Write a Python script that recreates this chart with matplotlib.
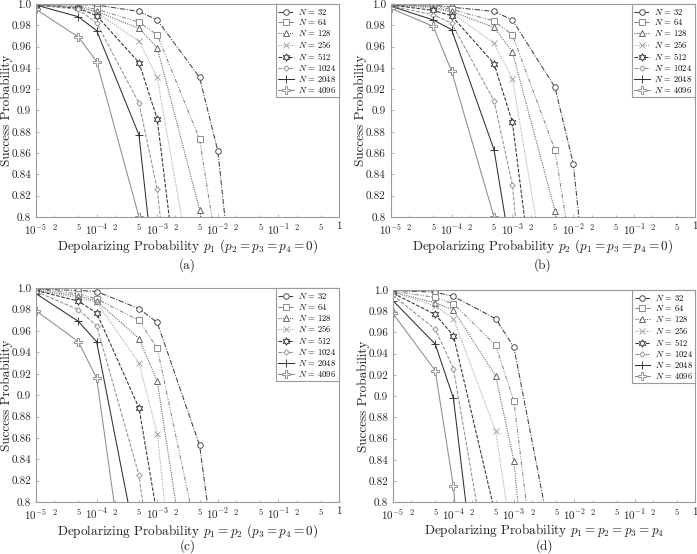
import numpy as np
import matplotlib
matplotlib.use("Agg")
import matplotlib.pyplot as plt
from matplotlib.ticker import FixedLocator, FixedFormatter

plt.rcParams["font.family"] = "serif"
plt.rcParams["font.serif"] = ["cmr10", "DejaVu Serif"]
plt.rcParams["mathtext.fontset"] = "cm"
plt.rcParams["axes.formatter.use_mathtext"] = True

# sample points of the depolarizing probability
p_vals = [1e-5, 5e-5, 1e-4, 5e-4, 1e-3, 5e-3, 1e-2, 5e-2]
sizes = [32, 64, 128, 256, 512, 1024, 2048, 4096]

# success probability per N (series stop once they fall out of view)
succ_a = {
    32:   [0.9995, 0.9995, 0.999, 0.993, 0.985, 0.931, 0.862, 0.487],
    64:   [0.999, 0.998, 0.995, 0.983, 0.971, 0.873, 0.764],
    128:  [0.999, 0.997, 0.993, 0.977, 0.959, 0.807, 0.70],
    256:  [0.999, 0.997, 0.992, 0.965, 0.931, 0.703],
    512:  [0.999, 0.996, 0.989, 0.945, 0.892, 0.567],
    1024: [0.999, 0.995, 0.982, 0.907, 0.826, 0.459],
    2048: [0.999, 0.988, 0.975, 0.877, 0.72],
    4096: [0.995, 0.969, 0.946, 0.800, 0.60],
}
succ_b = {
    32:   [0.9995, 0.999, 0.997, 0.993, 0.985, 0.922, 0.85, 0.47],
    64:   [0.999, 0.998, 0.995, 0.984, 0.971, 0.863, 0.755],
    128:  [0.999, 0.997, 0.993, 0.978, 0.955, 0.806, 0.70],
    256:  [0.999, 0.996, 0.992, 0.963, 0.930, 0.692],
    512:  [0.999, 0.994, 0.989, 0.944, 0.889, 0.573],
    1024: [0.998, 0.990, 0.982, 0.909, 0.830, 0.403],
    2048: [0.998, 0.985, 0.976, 0.863, 0.758],
    4096: [0.996, 0.979, 0.937, 0.800, 0.60],
}
succ_c = {
    32:   [0.999, 0.998, 0.997, 0.981, 0.968, 0.853, 0.726],
    64:   [0.999, 0.995, 0.990, 0.970, 0.944, 0.757],
    128:  [0.998, 0.993, 0.988, 0.953, 0.913, 0.652],
    256:  [0.998, 0.991, 0.987, 0.930, 0.864, 0.495],
    512:  [0.998, 0.988, 0.977, 0.888, 0.787],
    1024: [0.997, 0.980, 0.965, 0.825, 0.70],
    2048: [0.995, 0.969, 0.950, 0.747],
    4096: [0.979, 0.950, 0.916, 0.633],
}
succ_d = {
    32:   [0.9995, 0.998, 0.994, 0.973, 0.946, 0.740],
    64:   [0.999, 0.993, 0.987, 0.948, 0.895, 0.569],
    128:  [0.998, 0.988, 0.981, 0.919, 0.839, 0.42],
    256:  [0.998, 0.985, 0.973, 0.867, 0.752],
    512:  [0.997, 0.977, 0.957, 0.787],
    1024: [0.995, 0.963, 0.926, 0.694],
    2048: [0.990, 0.949, 0.898, 0.562],
    4096: [0.978, 0.924, 0.815, 0.35],
}

xlabels = [
    r"Depolarizing Probability $p_1$ $(p_2 = p_3 = p_4 = 0)$",
    r"Depolarizing Probability $p_2$ $(p_1 = p_3 = p_4 = 0)$",
    r"Depolarizing Probability $p_1 = p_2$ $(p_3 = p_4 = 0)$",
    r"Depolarizing Probability $p_1 = p_2 = p_3 = p_4$",
]
captions = ["(a)", "(b)", "(c)", "(d)"]
yticks = [0.8, 0.82, 0.84, 0.86, 0.88, 0.9, 0.92, 0.94, 0.96, 0.98, 1.0]
ytick_labels = ["0.8", "0.82", "0.84", "0.86", "0.88", "0.9", "0.92", "0.94", "0.96", "0.98", "1.0"]
xticks = [1e-5, 1e-4, 1e-3, 1e-2, 1e-1, 1]
xtick_labels = [r"$10^{-5}$", r"$10^{-4}$", r"$10^{-3}$", r"$10^{-2}$", r"$10^{-1}$", "1"]

styles = {
    32:   dict(color="#404040", ls=(0, (5, 1.5, 1, 1.5)), marker="o", ms=4),
    64:   dict(color="#858585", ls=(0, (4, 1.5, 1, 1.5, 1, 1.5)), marker="s", ms=4),
    128:  dict(color="#5a5a5a", ls=(0, (1, 1.2)), marker="^", ms=4),
    256:  dict(color="#a0a0a0", ls=(0, (1, 1.2)), marker="x", ms=4),
    512:  dict(color="#303030", ls=(0, (3.5, 1.5)), marker=(6, 1, 0), ms=5.5),
    1024: dict(color="#909090", ls=(0, (3.5, 1.5)), marker="D", ms=2.8),
    2048: dict(color="#303030", ls="-", marker="+", ms=5.5),
    4096: dict(color="#8c8c8c", ls="-", marker="P", ms=5.5),
}

fig = plt.figure(figsize=(6.97, 5.54), dpi=100)
boxes = [
    [0.0517, 0.6083, 0.4347, 0.3845],
    [0.5605, 0.6083, 0.4366, 0.3845],
    [0.0517, 0.0939, 0.4347, 0.3857],
    [0.5638, 0.0933, 0.4338, 0.3832],
]
panels = [succ_a, succ_b, succ_c, succ_d]
cap_y = [-0.228, -0.228, -0.207, -0.207]

for i, (box, data) in enumerate(zip(boxes, panels)):
    ax = fig.add_axes(box)
    for n in sizes:
        y = data[n]
        st = styles[n]
        ax.plot(p_vals[:len(y)], y, color=st["color"], ls=st["ls"], lw=0.75,
                marker=st["marker"], ms=st["ms"], mfc="white", mec=st["color"],
                mew=0.65, label=r"$N$ = %d" % n)
    ax.set_xscale("log")
    ax.set_xlim(1e-5, 1)
    ax.set_ylim(0.8, 1.0)
    ax.yaxis.set_major_locator(FixedLocator(yticks))
    ax.yaxis.set_major_formatter(FixedFormatter(ytick_labels))
    ax.xaxis.set_major_locator(FixedLocator(xticks))
    ax.xaxis.set_major_formatter(FixedFormatter(xtick_labels))
    minor = [m * 10.0 ** k for k in range(-5, 0) for m in (2, 5)]
    ax.xaxis.set_minor_locator(FixedLocator(minor))
    ax.xaxis.set_minor_formatter(FixedFormatter(["2", "5"] * 5))
    ax.tick_params(axis="both", which="major", labelsize=8, direction="in",
                   length=2.5, width=0.5, color="#999999", labelcolor="#222222")
    ax.tick_params(axis="x", which="minor", labelsize=6, direction="in",
                   length=1.5, width=0.5, color="#999999", pad=4.5,
                   labelcolor="#222222")
    for sp in ax.spines.values():
        sp.set_color("#9a9a9a")
        sp.set_linewidth(0.8)
    ax.set_ylabel("Success Probability", fontsize=9.5, color="#222222")
    ax.yaxis.set_label_coords(-0.077, 0.5)
    ax.set_xlabel(xlabels[i], fontsize=9.5, labelpad=0, color="#222222")
    ax.text(0.5, cap_y[i], captions[i], transform=ax.transAxes, ha="center",
            va="center", fontsize=9.5, color="#222222")
    leg = ax.legend(loc="upper right", fontsize=6.2, handlelength=1.8,
                    borderpad=0.3, labelspacing=0.1, handletextpad=0.5,
                    borderaxespad=0.0, fancybox=False, framealpha=1,
                    edgecolor="#9a9a9a")
    leg.get_frame().set_linewidth(0.8)

fig.savefig("out.png", dpi=100)
